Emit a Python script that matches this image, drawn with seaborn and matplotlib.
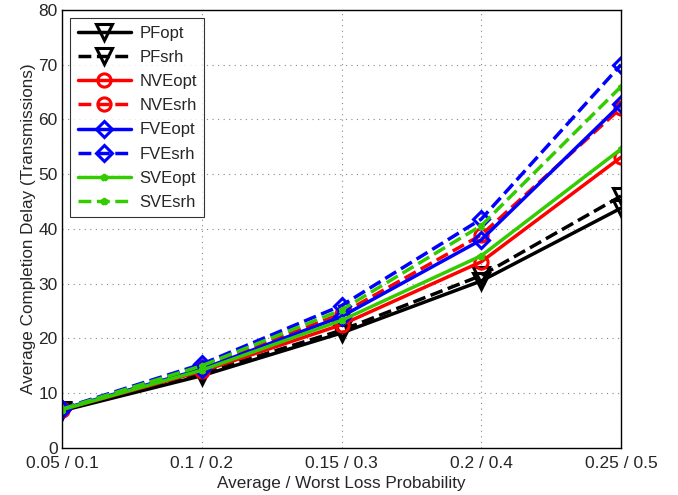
import matplotlib
matplotlib.use("Agg")
import matplotlib.pyplot as plt
import seaborn as sns
import pandas as pd

x_labels = ["0.05 / 0.1", "0.1 / 0.2", "0.15 / 0.3", "0.2 / 0.4", "0.25 / 0.5"]
x_vals = [0.05, 0.10, 0.15, 0.20, 0.25]

PFopt = [6.8, 13.2, 21.0, 30.5, 43.8]
PFsrh = [6.9, 13.6, 21.5, 31.5, 46.0]
NVEopt = [7.0, 14.0, 22.5, 34.0, 53.1]
NVEsrh = [7.1, 14.7, 24.5, 38.9, 62.1]
FVEopt = [7.1, 14.4, 24.0, 38.0, 62.8]
FVEsrh = [7.2, 15.3, 26.0, 41.8, 70.0]
SVEopt = [7.0, 14.2, 23.3, 35.1, 54.6]
SVEsrh = [7.1, 15.0, 25.2, 40.6, 66.0]

series = [
    ("PFopt", PFopt, "black", "-", "v"),
    ("PFsrh", PFsrh, "black", "--", "v"),
    ("NVEopt", NVEopt, "#ff0000", "-", "o"),
    ("NVEsrh", NVEsrh, "#ff0000", "--", "o"),
    ("FVEopt", FVEopt, "#0000ff", "-", "D"),
    ("FVEsrh", FVEsrh, "#0000ff", "--", "D"),
    ("SVEopt", SVEopt, "#33cc00", "-", "*"),
    ("SVEsrh", SVEsrh, "#33cc00", "--", "*"),
]

sns.set_style("white")
plt.rcParams['font.family'] = ['Liberation Sans', 'DejaVu Sans']

fig = plt.figure(figsize=(6.78, 4.95), dpi=100)
ax = fig.add_axes([0.0914, 0.095, 0.8246, 0.885])

sizes = {"v": 11, "o": 9.5, "D": 8, "*": 5}
for name, vals, col, ls, mk in series:
    df = pd.DataFrame({"x": x_vals, "y": vals})
    sns.lineplot(data=df, x="x", y="y", ax=ax, color=col, linestyle=ls,
                 linewidth=2.5, marker=mk, markersize=sizes[mk],
                 markerfacecolor="none", markeredgecolor=col,
                 markeredgewidth=2.2, label=name,
                 dashes=False if ls == "-" else (3, 2.2))

ax.set_xlim(0.05, 0.25)
ax.set_ylim(0, 80)
ax.set_xticks(x_vals)
ax.set_xticklabels(x_labels)
ax.set_yticks(range(0, 81, 10))
ax.tick_params(axis="both", labelsize=12.5, direction="in", length=4, color="black")
ax.tick_params(axis="x", pad=5.5)
ax.tick_params(axis="y", pad=3)
ax.grid(True, linestyle=(0, (1, 4)), color="#888888", linewidth=0.8)
for s in ax.spines.values():
    s.set_color("black")
    s.set_linewidth(1)
ax.set_xlabel("Average / Worst Loss Probability", fontsize=12.3, labelpad=4)
ax.set_ylabel("Average Completion Delay (Transmissions)", fontsize=12.3, labelpad=2)

leg = ax.legend(loc="upper left", fontsize=12, frameon=True, fancybox=False,
                edgecolor="black", handlelength=3.2, handletextpad=0.5,
                borderaxespad=0.5, labelspacing=0.55, borderpad=0.45)
leg.get_frame().set_linewidth(0.8)

fig.savefig("out.png", dpi=100)
